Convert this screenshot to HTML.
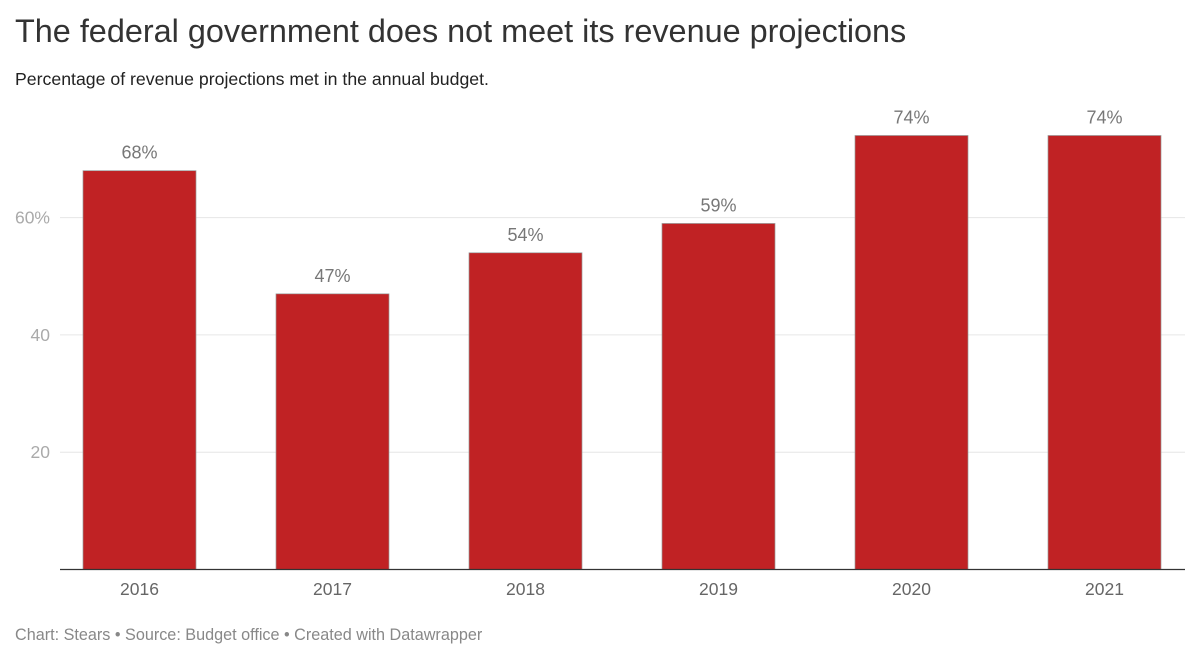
<!DOCTYPE html>
<html><head><meta charset="utf-8"><style>
body{margin:0;background:#fff;font-family:"Liberation Sans",sans-serif;}
#wrap{position:relative;width:1200px;height:661px;overflow:hidden}
h1{position:absolute;left:15px;top:13px;margin:0;font-size:32.4px;font-weight:normal;color:#333}
.sub{position:absolute;left:15px;top:69px;font-size:17.7px;color:#222}
.foot{position:absolute;left:15px;top:626px;font-size:16.2px;color:#888}
</style></head><body>
<div id="wrap">
<h1>The federal government does not meet its revenue projections</h1>
<div class="sub">Percentage of revenue projections met in the annual budget.</div>
<svg id="svg" width="1200" height="661" style="position:absolute;left:0;top:0"></svg>
<div class="foot">Chart: Stears • Source: Budget office • Created with Datawrapper</div>
</div>
<script>
const categories=["2016","2017","2018","2019","2020","2021"];
const values=[68,47,54,59,74,74];
const valueLabels=["68%","47%","54%","59%","74%","74%"];
const ticks=[20,40,60];
const tickLabels=["20","40","60%"];
const svg=document.getElementById('svg');
const NS='http://www.w3.org/2000/svg';
const y=v=>569.5-v*5.865;
const xc=i=>139.5+193*i;
const bw=113;
function mk(t,a){const e=document.createElementNS(NS,t);for(const k in a)e.setAttribute(k,a[k]);svg.appendChild(e);return e;}
ticks.forEach((t,i)=>{
 const l=mk('line',{x1:60,x2:1185,y1:y(t),y2:y(t),stroke:'#e6e6e6','stroke-width':1});
 
 
 const tx=mk('text',{x:50,y:y(t)+6,'text-anchor':'end','font-size':17.5,fill:'#aaa','font-family':'Liberation Sans'});
 tx.textContent=tickLabels[i];
 
 
});
categories.forEach((c,i)=>{
 const r=mk('rect',{x:xc(i)-bw/2,y:y(values[i]),width:bw,height:y(0)-y(values[i]),fill:'#c02224',stroke:'#999','stroke-width':0.7});
 
 
 const v=mk('text',{x:xc(i),y:y(values[i])-12,'text-anchor':'middle','font-size':18,fill:'#777','font-family':'Liberation Sans'});
 v.textContent=valueLabels[i];
 
 
 const xl=mk('text',{x:xc(i),y:595,'text-anchor':'middle','font-size':17.5,fill:'#666','font-family':'Liberation Sans'});
 xl.textContent=c;
 
 
});
const b=mk('line',{x1:60,x2:1185,y1:569.5,y2:569.5,stroke:'#333','stroke-width':1.3});


</script>
</body></html>
